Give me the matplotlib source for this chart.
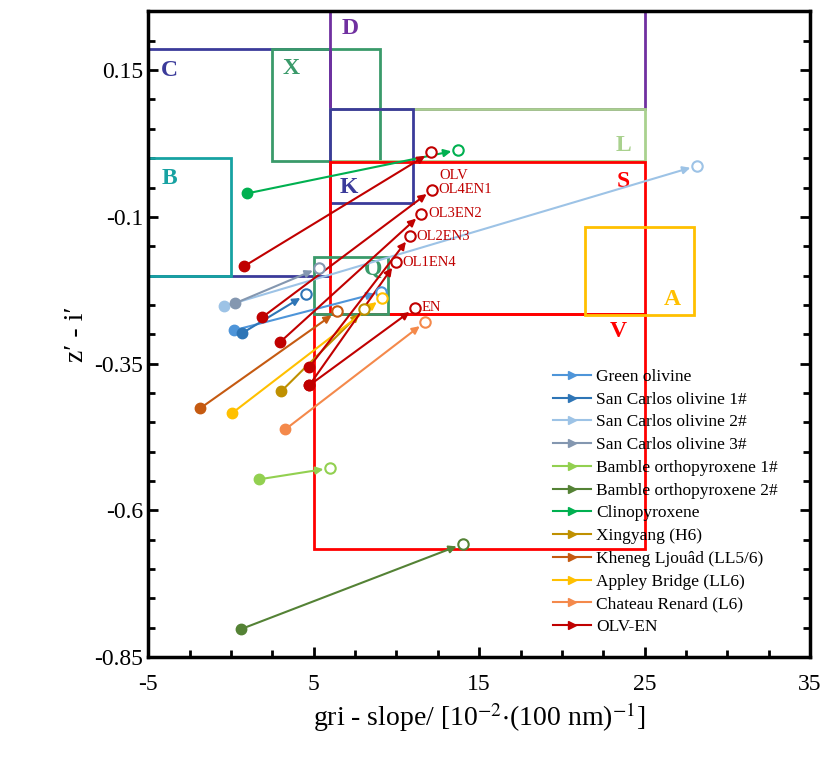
import matplotlib
matplotlib.use("Agg")
import matplotlib.pyplot as plt
from matplotlib.patches import Rectangle
from matplotlib.lines import Line2D
from matplotlib.ticker import MultipleLocator

plt.rcParams["font.family"] = ["Liberation Serif", "DejaVu Serif"]
plt.rcParams["mathtext.fontset"] = "stix"
plt.rcParams["axes.unicode_minus"] = False

# samples: name, color, start (x, y), end (x, y)
names = ["Green olivine", "San Carlos olivine 1#", "San Carlos olivine 2#", "San Carlos olivine 3#",
         "Bamble orthopyroxene 1#", "Bamble orthopyroxene 2#", "Clinopyroxene", "Xingyang (H6)",
         "Kheneg Ljouâd (LL5/6)", "Appley Bridge (LL6)", "Chateau Renard (L6)", "OLV-EN"]
colors = ["#4e95d9", "#2e75b6", "#9dc3e6", "#8497b0", "#92d050", "#548235", "#00b050",
          "#bf9000", "#c55a11", "#ffc000", "#f4894b", "#c00000"]
x_start = [0.2, 0.68, -0.4, 0.26, 1.71, 0.62, 0.98, 3.04, -1.86, 0.08, 3.28]
y_start = [-0.293, -0.298, -0.252, -0.247, -0.547, -0.802, -0.06, -0.397, -0.426, -0.434, -0.462]
x_end = [9.08, 4.55, 28.17, 5.33, 6.0, 14.03, 13.73, 8.05, 6.42, 9.14, 11.74]
y_end = [-0.228, -0.232, -0.013, -0.187, -0.528, -0.657, 0.014, -0.257, -0.261, -0.238, -0.279]

olv_labels = ["OLV", "OL4EN1", "OL3EN2", "OL2EN3", "OL1EN4", "EN"]
olv_x_start = [0.8, 1.89, 2.98, 4.73, 4.73, 4.73]
olv_y_start = [-0.184, -0.271, -0.313, -0.356, -0.387, -0.387]
olv_x_end = [12.1, 12.16, 11.5, 10.83, 9.98, 11.13]
olv_y_end = [0.010, -0.054, -0.095, -0.133, -0.177, -0.255]

# class boxes: label, color, x0, x1, y0, y1, label position
boxes = [
    ("C", "#3b3b9a", -5, 6, -0.201, 0.186, (-3.7, 0.15)),
    ("B", "#17a2a2", -5, 0, -0.201, 0.0, (-3.7, -0.035)),
    ("X", "#3a9a6a", 2.5, 9.0, -0.005, 0.186, (3.6, 0.152)),
    ("D", "#7030a0", 6, 25, 0.083, 0.4, (7.2, 0.22)),
    ("L", "#a9d18e", 6, 25, -0.005, 0.083, (23.7, 0.022)),
    ("K", "#3b3b9a", 6, 11, -0.077, 0.083, (7.1, -0.05)),
    ("S", "#ff0000", 6, 25, -0.007, -0.266, (23.7, -0.04)),
    ("V", "#ff0000", 5, 25, -0.266, -0.666, (23.4, -0.295)),
    ("Q", "#3a9a6a", 5, 9.5, -0.168, -0.265, (8.6, -0.19)),
    ("A", "#ffc000", 21.4, 28.0, -0.117, -0.267, (26.7, -0.24)),
]

fig, ax = plt.subplots(figsize=(8.24, 7.58), dpi=100)
fig.subplots_adjust(left=0.18, right=0.983, top=0.985, bottom=0.133)

for label, col, x0, x1, y0, y1, (lx, ly) in boxes:
    ax.add_patch(Rectangle((x0, min(y0, y1)), x1 - x0, abs(y1 - y0), fill=False,
                           edgecolor=col, linewidth=2, zorder=2))
    ax.text(lx, ly, label, color=col, fontsize=17, fontweight="bold", ha="center", va="center", zorder=2)


def draw_arrow(x0, y0, x1, y1, col):
    ax.plot([x0], [y0], "o", color=col, markersize=7.5, zorder=4)
    ax.annotate("", xy=(x1, y1), xytext=(x0, y0),
                arrowprops=dict(arrowstyle="-|>", color=col, lw=1.5, mutation_scale=11,
                                shrinkA=0, shrinkB=5), zorder=3)
    ax.plot([x1], [y1], "o", mfc="white", mec=col, mew=1.5, markersize=7.5, zorder=4)


for i in range(len(x_start)):
    draw_arrow(x_start[i], y_start[i], x_end[i], y_end[i], colors[i])

red = colors[-1]
for i, lab in enumerate(olv_labels):
    draw_arrow(olv_x_start[i], olv_y_start[i], olv_x_end[i], olv_y_end[i], red)
    if lab == "OLV":
        ax.text(olv_x_end[i] + 0.5, olv_y_end[i] - 0.04, lab, color=red, fontsize=10.5, va="center")
    else:
        ax.text(olv_x_end[i] + 0.4, olv_y_end[i], lab, color=red, fontsize=10.5, va="center")

ax.set_xlim(-5, 35)
ax.set_ylim(-0.85, 0.25)
ax.set_xticks([-5, 5, 15, 25, 35])
ax.set_yticks([-0.85, -0.6, -0.35, -0.1, 0.15])
ax.set_yticklabels(["-0.85", "-0.6", "-0.35", "-0.1", "0.15"])
ax.xaxis.set_minor_locator(MultipleLocator(2.5))
ax.yaxis.set_minor_locator(MultipleLocator(0.05))
ax.tick_params(which="both", direction="in", top=False, right=True, labelsize=17, width=2)
ax.tick_params(which="major", length=7)
ax.tick_params(which="minor", length=5)
ax.tick_params(axis="x", pad=12)
for s in ax.spines.values():
    s.set_linewidth(2.5)

ax.set_xlabel(r"gri - slope/ [10$^{-2}$$\cdot$(100 nm)$^{-1}$]", fontsize=20)
ax.set_ylabel("z′ - i′", fontsize=20)

handles = [Line2D([0], [0], color=c, lw=1.5, marker=">", markersize=6, markevery=[1]) for c in colors]
ax.legend(handles, names, loc="lower right", bbox_to_anchor=(0.975, 0.01), frameon=False,
          fontsize=12.5, handlelength=2.2, labelspacing=0.38, handletextpad=0.3)

fig.savefig("out.png")
